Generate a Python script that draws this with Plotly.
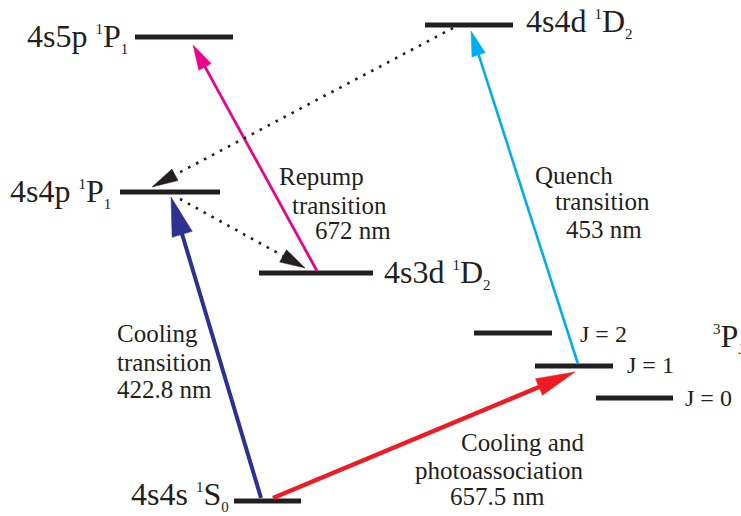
import math
import plotly.graph_objects as go

# Canvas units: the diagram is laid out on a 741 x 516 grid (y grows downward)
W, H = 741, 516

# ---- energy levels -------------------------------------------------------
level_names = ["4s5p 1P1", "4s4p 1P1", "4s3d 1D2", "4s4d 1D2", "4s4s 1S0",
               "3P2", "3P1", "3P0"]
level_x0 = [135, 120, 259, 425, 234, 474, 535, 596]
level_x1 = [233, 220, 373, 513, 301, 552, 613, 673]
level_y = [37, 192, 273, 25, 501, 333, 366, 398]

# ---- level labels ----------------------------------------------------------
label_main = ["4s5p ", "4s4p ", "4s3d ", "4s4d ", "4s4s ", ""]
label_sup = ["1", "1", "1", "1", "1", "3"]
label_term = ["P", "P", "D", "D", "S", "P"]
label_sub = ["1", "1", "2", "2", "0", "J"]
label_x = [130, 113, 382, 524, 231, 711]
label_y = [37, 192, 273, 22, 495, 337]
label_anchor = ["right", "right", "left", "left", "right", "left"]

j_text = ["J = 2", "J = 1", "J = 0"]
j_x = [578, 625, 683]
j_y = [334, 365, 398]

# ---- transition labels (one entry per line) ------------------------------
note_text = ["Repump", "transition", "672 nm",
             "Quench", "transition", "453 nm",
             "Cooling", "transition", "422.8 nm",
             "Cooling and", "photoassociation", "657.5 nm"]
note_x = [277, 290, 313, 533, 553, 564, 115, 115, 115, 459, 413, 448]
note_y = [176, 205, 230, 175, 201, 229, 333, 362, 389, 442, 470, 496]

# ---- transitions -----------------------------------------------------------
arrow_x0 = [261, 273, 317, 578, 453, 180]
arrow_y0 = [498, 498, 271, 364, 28, 199]
arrow_x1 = [171, 575, 193, 471, 152, 305]
arrow_y1 = [197, 372, 45, 31, 187, 268]
arrow_color = ["#2E3192", "#ED1C24", "#EC008C", "#00AEEF", "#231F20", "#231F20"]
arrow_width = [4, 4.5, 2.8, 2.6, 2.6, 2.6]
arrow_dash = ["solid", "solid", "solid", "solid", "2.6px,6.4px", "2.6px,6.4px"]
head_len = [39, 39, 25, 25, 26, 25]
head_wid = [21, 18, 14, 14, 13, 14]

INK = "#231F20"
FONT = "Liberation Serif"

fig = go.Figure()

for x0, x1, y in zip(level_x0, level_x1, level_y):
    fig.add_trace(go.Scatter(x=[x0, x1], y=[y, y], mode="lines",
                             line=dict(color=INK, width=5), hoverinfo="skip"))

for i in range(len(arrow_x0)):
    x0, y0, x1, y1 = arrow_x0[i], arrow_y0[i], arrow_x1[i], arrow_y1[i]
    d = math.hypot(x1 - x0, y1 - y0)
    ux, uy = (x1 - x0) / d, (y1 - y0) / d
    px, py = -uy, ux
    bx, by = x1 - ux * head_len[i], y1 - uy * head_len[i]
    # shaft runs up to the base of the head
    fig.add_trace(go.Scatter(x=[x0, bx + ux * 2], y=[y0, by + uy * 2], mode="lines",
                             line=dict(color=arrow_color[i], width=arrow_width[i],
                                       dash=arrow_dash[i]),
                             hoverinfo="skip"))
    hw = head_wid[i] / 2
    fig.add_trace(go.Scatter(
        x=[x1, bx + px * hw, bx - px * hw, x1],
        y=[y1, by + py * hw, by - py * hw, y1],
        mode="lines", fill="toself", fillcolor=arrow_color[i],
        line=dict(color=arrow_color[i], width=0.5), hoverinfo="skip"))


def term_label(main, sup, term, sub):
    small = '<span style="font-size:15px">%s</span>'
    return main + "<sup>" + small % sup + "</sup>" + term + "<sub>" + small % sub + "</sub>"


annotations = []
for i in range(len(label_main)):
    annotations.append(dict(
        text=term_label(label_main[i], label_sup[i], label_term[i], label_sub[i]),
        x=label_x[i], y=label_y[i], xanchor=label_anchor[i], yanchor="middle",
        showarrow=False, font=dict(family=FONT, size=32, color=INK)))
for t, x, y in zip(j_text, j_x, j_y):
    annotations.append(dict(text=t, x=x, y=y, xanchor="left", yanchor="middle",
                            showarrow=False, font=dict(family=FONT, size=24, color=INK)))
for t, x, y in zip(note_text, note_x, note_y):
    annotations.append(dict(text=t, x=x, y=y, xanchor="left", yanchor="middle",
                            showarrow=False, font=dict(family=FONT, size=25, color=INK)))

fig.update_layout(
    width=W, height=H, margin=dict(l=0, r=0, t=0, b=0),
    paper_bgcolor="white", plot_bgcolor="white", showlegend=False,
    font=dict(family=FONT, color=INK),
    xaxis=dict(range=[0, W], visible=False, fixedrange=True),
    yaxis=dict(range=[H, 0], visible=False, fixedrange=True),
    annotations=annotations,
)

fig.write_html("out.html")
